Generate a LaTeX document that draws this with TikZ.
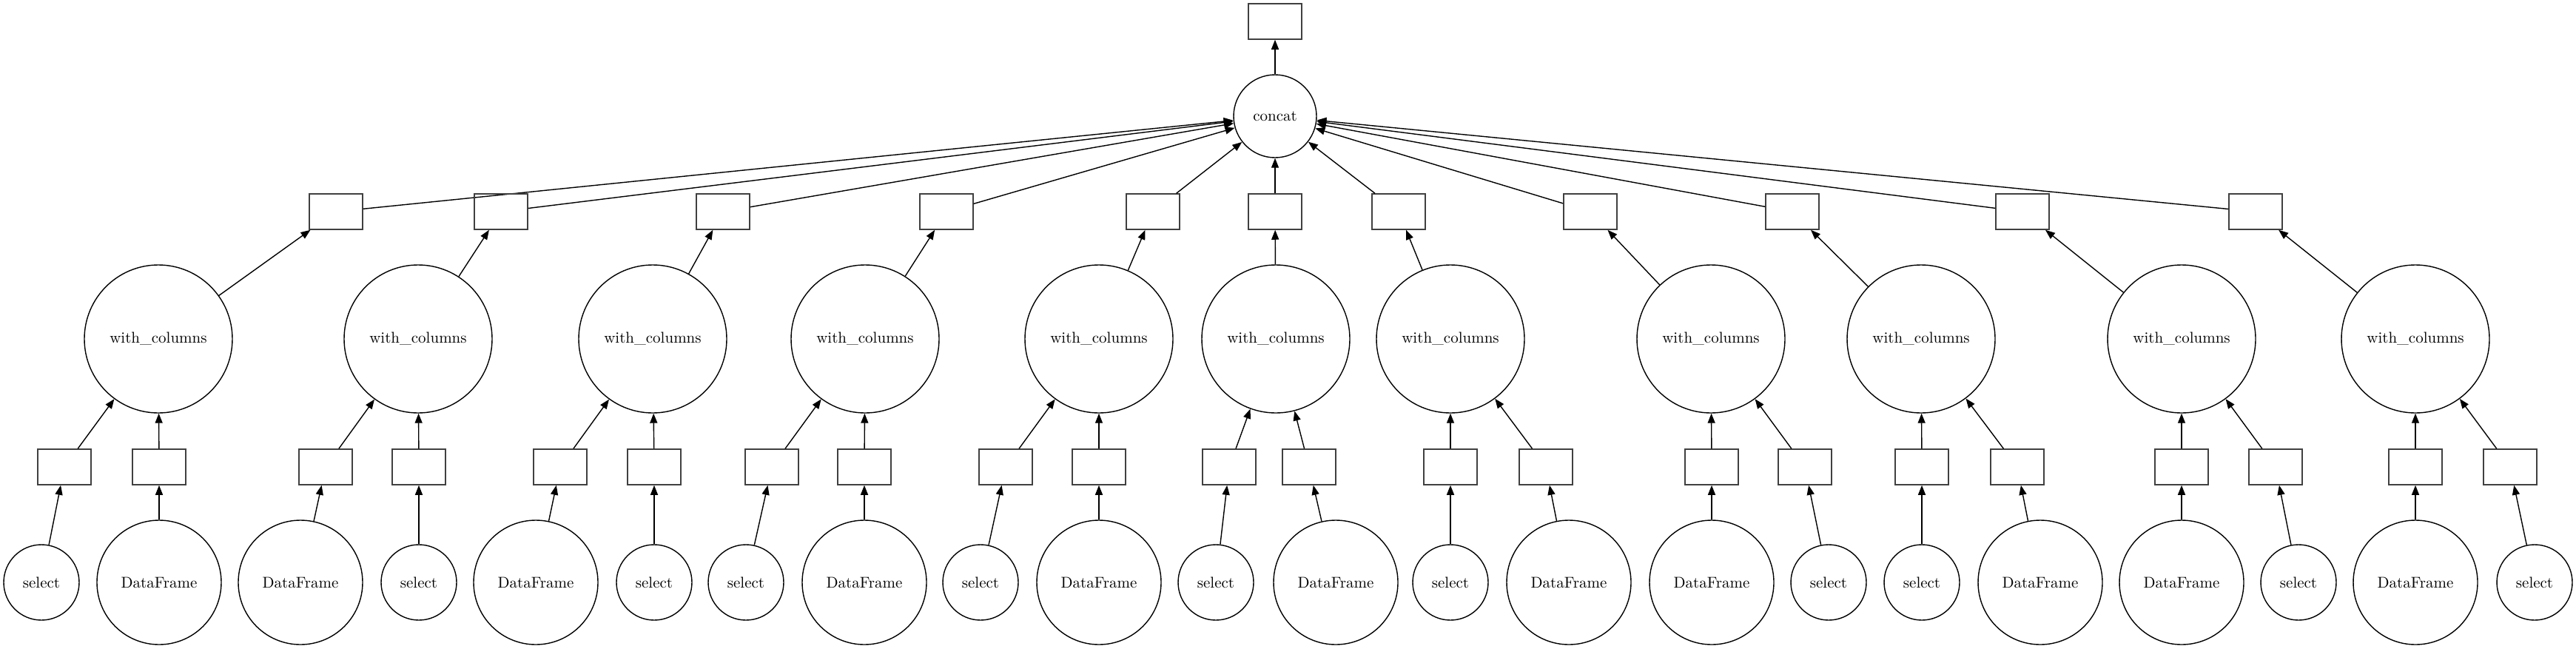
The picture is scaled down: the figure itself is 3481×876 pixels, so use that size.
\documentclass[tikz,border=0pt]{standalone}
\usetikzlibrary{arrows.meta}
\newcommand\lbl[1]{\scalebox{2.1}{\fontsize{10}{12}\selectfont #1}}
\begin{document}
\begin{tikzpicture}[x=1pt,y=-1pt,
  every node/.style={inner sep=0pt},
  boxnode/.style={draw=black!75, line width=1.5pt, rectangle, minimum width=72pt, minimum height=48pt},
  circ/.style={draw=black, line width=1.4pt, circle},
  nwith/.style={circ, minimum size=200pt},
  nconcat/.style={circ, minimum size=112pt},
  nselect/.style={circ, minimum size=102pt},
  nDataFrame/.style={circ, minimum size=168pt},
  arr/.style={-{Triangle[length=13pt,width=10pt]}, line width=1.4pt, black}
]
\useasboundingbox (0,0) rectangle (3481,876);
\node[boxnode] (top) at (1723,29) {};
\node[nconcat] (concat) at (1723,157) {\lbl{concat}};
\draw[arr] (concat) -- (top);
\foreach \i/\t/\w/\a/\b/\lt/\lx/\rt/\rx in {
  1/454/214/87/215/select/56/DataFrame/215,
  2/677/565/440/566/DataFrame/406/select/566,
  3/977/882/757/884/DataFrame/724/select/884,
  4/1279/1169/1043/1168/select/1008/DataFrame/1168,
  5/1558/1485/1359/1485/select/1325/DataFrame/1485,
  6/1723/1724/1661/1769/select/1643/DataFrame/1805,
  7/1890/1960/1960/2089/select/1960/DataFrame/2120,
  8/2149/2312/2313/2439/DataFrame/2313/select/2471,
  9/2422/2596/2597/2726/select/2597/DataFrame/2757,
  10/2733/2948/2948/3075/DataFrame/2948/select/3106,
  11/3048/3264/3264/3392/DataFrame/3264/select/3425}{
  \node[boxnode] (t\i) at (\t,286) {};
  \node[nwith] (w\i) at (\w,458) {\lbl{with\_columns}};
  \node[boxnode] (a\i) at (\a,631) {};
  \node[boxnode] (b\i) at (\b,631) {};
  \node[n\lt] (l\i) at (\lx,787) {\lbl{\lt}};
  \node[n\rt] (r\i) at (\rx,787) {\lbl{\rt}};
  \draw[arr] (l\i) -- (a\i);
  \draw[arr] (r\i) -- (b\i);
  \draw[arr] (a\i) -- (w\i);
  \draw[arr] (b\i) -- (w\i);
  \draw[arr] (w\i) -- (t\i);
  \draw[arr] (t\i) -- (concat);
}
\end{tikzpicture}
\end{document}
